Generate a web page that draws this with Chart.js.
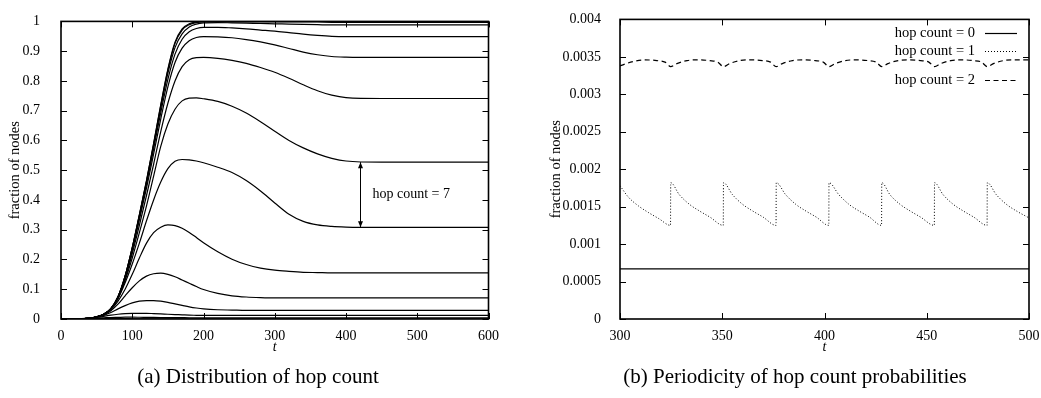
<!DOCTYPE html>
<html>
<head>
<meta charset="utf-8">
<script src="https://cdn.jsdelivr.net/npm/chart.js@4.4.1/dist/chart.umd.min.js"></script>
<style>
  html, body { margin: 0; padding: 0; background: #fff; }
  body { width: 1041px; height: 398px; position: relative; overflow: hidden; font-family: "Liberation Serif", "DejaVu Serif", serif; color: #000; }
  canvas { position: absolute; top: 0; }
  #chartA { left: 0; }
  #chartB { left: 520px; }
  .caption { position: absolute; top: 366px; font-size: 21px; line-height: 1; white-space: nowrap; transform: translateX(-50%); }
</style>
</head>
<body>
<canvas id="chartA" width="500" height="398"></canvas>
<canvas id="chartB" width="521" height="398"></canvas>
<div class="caption" style="left:258px">(a) Distribution of hop count</div>
<div class="caption" style="left:795px">(b) Periodicity of hop count probabilities</div>
<script>
// ---- (a) distribution of hop count: cumulative curves ----
const tA = [0, 20, 40, 50, 60, 70, 80, 90, 100, 110, 120, 130, 140, 150, 160, 170, 180, 190, 200, 220, 240, 260, 280, 300, 320, 340, 360, 380, 400, 450, 500, 600];

const curveA = [0, 0.0005, 0.003, 0.007, 0.016, 0.035, 0.075, 0.145, 0.24, 0.35, 0.465, 0.59, 0.72, 0.84, 0.93, 0.975, 0.992, 0.998, 1, 1, 1, 1, 1, 1, 1, 1, 1, 1, 1, 1, 1, 1];
const curveB = [0, 0.0005, 0.003, 0.007, 0.016, 0.035, 0.075, 0.145, 0.24, 0.35, 0.464, 0.588, 0.717, 0.836, 0.926, 0.971, 0.989, 0.996, 0.998, 0.998, 0.998, 0.998, 0.998, 0.998, 0.998, 0.998, 0.998, 0.997, 0.997, 0.997, 0.997, 0.997];
const curveC = [0, 0.0005, 0.003, 0.007, 0.016, 0.035, 0.075, 0.144, 0.238, 0.347, 0.46, 0.583, 0.708, 0.825, 0.912, 0.958, 0.981, 0.991, 0.995, 0.996, 0.995, 0.994, 0.993, 0.992, 0.991, 0.99, 0.989, 0.988, 0.988, 0.988, 0.988, 0.988];
const curveD = [0, 0.0005, 0.003, 0.007, 0.016, 0.035, 0.074, 0.142, 0.235, 0.342, 0.452, 0.572, 0.693, 0.805, 0.89, 0.94, 0.965, 0.976, 0.98, 0.98, 0.978, 0.975, 0.971, 0.967, 0.962, 0.957, 0.953, 0.95, 0.949, 0.949, 0.949, 0.949];
const curveE = [0, 0.0005, 0.003, 0.007, 0.016, 0.035, 0.073, 0.14, 0.23, 0.333, 0.44, 0.555, 0.672, 0.78, 0.862, 0.91, 0.935, 0.946, 0.949, 0.948, 0.945, 0.939, 0.931, 0.921, 0.909, 0.897, 0.888, 0.882, 0.88, 0.879, 0.879, 0.879];
const curveF = [0, 0.0005, 0.003, 0.007, 0.016, 0.034, 0.071, 0.135, 0.22, 0.315, 0.415, 0.52, 0.63, 0.725, 0.8, 0.848, 0.871, 0.878, 0.879, 0.876, 0.869, 0.859, 0.845, 0.829, 0.809, 0.787, 0.767, 0.752, 0.744, 0.741, 0.741, 0.741];
const curveG = [0, 0.0005, 0.003, 0.007, 0.016, 0.034, 0.07, 0.13, 0.205, 0.29, 0.38, 0.48, 0.58, 0.655, 0.705, 0.733, 0.742, 0.743, 0.74, 0.731, 0.715, 0.692, 0.663, 0.631, 0.6, 0.575, 0.555, 0.54, 0.531, 0.527, 0.527, 0.527];
const curveH = [0, 0.0005, 0.003, 0.007, 0.016, 0.033, 0.068, 0.122, 0.185, 0.255, 0.33, 0.4, 0.46, 0.505, 0.53, 0.536, 0.535, 0.531, 0.525, 0.51, 0.492, 0.465, 0.43, 0.39, 0.352, 0.328, 0.316, 0.311, 0.309, 0.308, 0.308, 0.308];
const curveI = [0, 0.0005, 0.003, 0.007, 0.015, 0.031, 0.06, 0.1, 0.15, 0.205, 0.255, 0.29, 0.308, 0.316, 0.314, 0.305, 0.291, 0.274, 0.256, 0.226, 0.201, 0.183, 0.171, 0.164, 0.16, 0.157, 0.156, 0.155, 0.155, 0.155, 0.155, 0.155];
const curveJ = [0, 0.0005, 0.003, 0.007, 0.014, 0.028, 0.05, 0.078, 0.105, 0.128, 0.144, 0.152, 0.154, 0.15, 0.142, 0.131, 0.12, 0.109, 0.099, 0.086, 0.078, 0.074, 0.072, 0.071, 0.071, 0.071, 0.071, 0.071, 0.071, 0.071, 0.071, 0.071];
const curveK = [0, 0.0005, 0.003, 0.006, 0.012, 0.022, 0.034, 0.045, 0.054, 0.06, 0.062, 0.062, 0.06, 0.056, 0.051, 0.046, 0.041, 0.037, 0.034, 0.031, 0.03, 0.029, 0.029, 0.029, 0.029, 0.029, 0.029, 0.029, 0.029, 0.029, 0.029, 0.029];
const curveL = [0, 0.0005, 0.003, 0.005, 0.009, 0.013, 0.016, 0.018, 0.019, 0.019, 0.019, 0.018, 0.017, 0.016, 0.015, 0.014, 0.013, 0.0125, 0.012, 0.012, 0.012, 0.012, 0.012, 0.012, 0.012, 0.012, 0.012, 0.012, 0.012, 0.012, 0.012, 0.012];
const curveM = [0, 0.0004, 0.002, 0.003, 0.004, 0.005, 0.0055, 0.006, 0.006, 0.0058, 0.0055, 0.0052, 0.005, 0.0048, 0.0046, 0.0044, 0.0042, 0.0041, 0.004, 0.004, 0.004, 0.004, 0.004, 0.004, 0.004, 0.004, 0.004, 0.004, 0.004, 0.004, 0.004, 0.004];
const curveN = [0, 0.0002, 0.0008, 0.001, 0.0011, 0.0011, 0.001, 0.001, 0.0009, 0.0009, 0.0008, 0.0008, 0.0008, 0.0007, 0.0007, 0.0007, 0.0007, 0.0007, 0.0007, 0.0007, 0.0007, 0.0007, 0.0007, 0.0007, 0.0007, 0.0007, 0.0007, 0.0007, 0.0007, 0.0007, 0.0007, 0.0007];
const curvesA = [curveA, curveB, curveC, curveD, curveE, curveF, curveG, curveH, curveI, curveJ, curveK, curveL, curveM, curveN];

const xTicksA = [0, 100, 200, 300, 400, 500, 600];
const xLabelsA = ['0', '100', '200', '300', '400', '500', '600'];
const yTicksA = [0, 0.1, 0.2, 0.3, 0.4, 0.5, 0.6, 0.7, 0.8, 0.9, 1];
const yLabelsA = ['0', '0.1', '0.2', '0.3', '0.4', '0.5', '0.6', '0.7', '0.8', '0.9', '1'];

// arrow marking the gap between two curves
const annotText = 'hop count = 7';
const annotT = 420;
const annotFrom = 0.527;
const annotTo = 0.308;

// ---- (b) periodicity of hop count probabilities ----
const hop0T = [300, 500];
const hop0V = [0.00067, 0.00067];

const hop1T = [300, 304, 309, 314, 319, 324.7,
               324.8, 329, 334, 339, 344, 350.5,
               350.6, 355, 360, 365, 370, 376.3,
               376.4, 381, 386, 391, 396, 402.1,
               402.2, 407, 412, 417, 422, 427.9,
               428, 432, 437, 442, 447, 453.7,
               453.8, 458, 463, 468, 473, 479.5,
               479.6, 484, 489, 494, 500];
const hop1V = [0.00178, 0.00163, 0.00151, 0.00142, 0.00134, 0.00125,
               0.00182, 0.00166, 0.00153, 0.00144, 0.00136, 0.00125,
               0.00182, 0.00166, 0.00153, 0.00144, 0.00136, 0.00125,
               0.00182, 0.00166, 0.00153, 0.00144, 0.00136, 0.00125,
               0.00182, 0.00166, 0.00153, 0.00144, 0.00136, 0.00125,
               0.00182, 0.00166, 0.00153, 0.00144, 0.00136, 0.00125,
               0.00182, 0.00166, 0.00153, 0.00144, 0.00136, 0.00125,
               0.00182, 0.00166, 0.00153, 0.00144, 0.00135];

const hop2T = [300, 302, 307, 312, 318, 322, 324.8,
               327.8, 332.8, 337.8, 343.8, 347.8, 350.6,
               353.6, 358.6, 363.6, 369.6, 373.6, 376.4,
               379.4, 384.4, 389.4, 395.4, 399.4, 402.2,
               405.2, 410.2, 415.2, 421.2, 425.2, 428,
               431, 436, 441, 447, 451, 453.8,
               456.8, 461.8, 466.8, 472.8, 476.8, 479.6,
               482.6, 487.6, 492.6, 500];
const hop2V = [0.00338, 0.0034, 0.00344, 0.00346, 0.00345, 0.00343, 0.00337,
               0.00341, 0.00345, 0.00346, 0.00345, 0.00343, 0.00337,
               0.00341, 0.00345, 0.00346, 0.00345, 0.00343, 0.00337,
               0.00341, 0.00345, 0.00346, 0.00345, 0.00343, 0.00337,
               0.00341, 0.00345, 0.00346, 0.00345, 0.00343, 0.00337,
               0.00341, 0.00345, 0.00346, 0.00345, 0.00343, 0.00337,
               0.00341, 0.00345, 0.00346, 0.00345, 0.00343, 0.00337,
               0.00341, 0.00345, 0.00346, 0.00346];

const xTicksB = [300, 350, 400, 450, 500];
const xLabelsB = ['300', '350', '400', '450', '500'];
const yTicksB = [0, 0.0005, 0.001, 0.0015, 0.002, 0.0025, 0.003, 0.0035, 0.004];
const yLabelsB = ['0', '0.0005', '0.001', '0.0015', '0.002', '0.0025', '0.003', '0.0035', '0.004'];

const legendLabels = ['hop count = 0', 'hop count = 1', 'hop count = 2'];

const FONT = '"Liberation Serif", "Times New Roman", serif';

// pair up x and y arrays for Chart.js
function points(xs, ys) {
    return xs.map((x, i) => ({ x: x, y: ys[i] }));
}

// gnuplot-like frame with inward ticks on all four sides
const framePlugin = {
    id: 'frame',
    afterDraw(chart) {
        const { ctx, chartArea: a, scales } = chart;
        ctx.save();
        ctx.strokeStyle = '#000';
        ctx.lineWidth = 1;
        ctx.beginPath();
        scales.x.ticks.forEach(t => {
            const px = Math.round(scales.x.getPixelForValue(t.value)) + 0.5;
            ctx.moveTo(px, a.bottom); ctx.lineTo(px, a.bottom - 6);
            ctx.moveTo(px, a.top); ctx.lineTo(px, a.top + 6);
        });
        scales.y.ticks.forEach(t => {
            const py = Math.round(scales.y.getPixelForValue(t.value)) + 0.5;
            ctx.moveTo(a.left, py); ctx.lineTo(a.left + 6, py);
            ctx.moveTo(a.right, py); ctx.lineTo(a.right - 6, py);
        });
        ctx.stroke();
        ctx.lineWidth = 1.6;
        ctx.strokeRect(a.left, a.top, a.right - a.left, a.bottom - a.top);
        ctx.restore();
    }
};

// double arrow + label in chart (a)
const annotPlugin = {
    id: 'annot',
    afterDatasetsDraw(chart) {
        const { ctx, scales } = chart;
        const x = Math.round(scales.x.getPixelForValue(annotT)) + 0.5;
        const y1 = scales.y.getPixelForValue(annotFrom);
        const y2 = scales.y.getPixelForValue(annotTo);
        ctx.save();
        ctx.strokeStyle = '#000';
        ctx.fillStyle = '#000';
        ctx.lineWidth = 1;
        ctx.beginPath();
        ctx.moveTo(x, y1); ctx.lineTo(x, y2);
        ctx.stroke();
        ctx.beginPath();
        ctx.moveTo(x, y1); ctx.lineTo(x - 2.5, y1 + 6); ctx.lineTo(x + 2.5, y1 + 6); ctx.closePath();
        ctx.moveTo(x, y2); ctx.lineTo(x - 2.5, y2 - 6); ctx.lineTo(x + 2.5, y2 - 6); ctx.closePath();
        ctx.fill();
        ctx.font = '14px ' + FONT;
        ctx.textBaseline = 'middle';
        ctx.textAlign = 'left';
        ctx.fillText(annotText, x + 12, (y1 + y2) / 2);
        ctx.restore();
    }
};

// key in the top right corner of chart (b)
const keyPlugin = {
    id: 'key',
    afterDatasetsDraw(chart) {
        const { ctx, chartArea: a } = chart;
        const rows = [14, 32, 61];
        ctx.save();
        ctx.font = '14.5px ' + FONT;
        ctx.textBaseline = 'middle';
        ctx.textAlign = 'right';
        ctx.fillStyle = '#000';
        chart.data.datasets.forEach((ds, i) => {
            const y = a.top + rows[i];
            ctx.fillText(legendLabels[i], a.right - 54, y);
            ctx.strokeStyle = '#000';
            ctx.lineWidth = ds.borderWidth;
            ctx.setLineDash(ds.borderDash || []);
            ctx.beginPath();
            ctx.moveTo(a.right - 44, Math.round(y) + 0.5);
            ctx.lineTo(a.right - 12, Math.round(y) + 0.5);
            ctx.stroke();
        });
        ctx.restore();
    }
};

function axis(min, max, tickVals, tickLabels, extra) {
    return Object.assign({
        type: 'linear',
        min: min,
        max: max,
        grid: { display: false },
        border: { display: false },
        afterBuildTicks: s => { s.ticks = tickVals.map(v => ({ value: v })); },
        ticks: {
            color: '#000',
            font: { family: FONT, size: 14 },
            padding: 1,
            autoSkip: false,
            maxRotation: 0,
            callback: (v, i) => tickLabels[i]
        }
    }, extra);
}

function xAxis(min, max, tickVals, tickLabels) {
    return axis(min, max, tickVals, tickLabels, {
        afterFit: sc => { sc.height = 38; },
        title: { display: true, text: 't', color: '#000', font: { family: FONT, size: 14, style: 'italic' }, padding: { top: 0, bottom: 1 } }
    });
}

function yAxis(tickVals, tickLabels, width, titlePad, labelPad) {
    const s = axis(tickVals[0], tickVals[tickVals.length - 1], tickVals, tickLabels, {
        afterFit: sc => { sc.width = width; },
        title: { display: true, text: 'fraction of nodes', color: '#000', font: { family: FONT, size: 14.5 }, padding: { top: titlePad, bottom: 0 } }
    });
    s.ticks.padding = labelPad;
    return s;
}

const baseOptions = {
    responsive: false,
    animation: false,
    events: [],
    elements: { point: { radius: 0 } },
    plugins: { legend: { display: false }, tooltip: { enabled: false } }
};

new Chart(document.getElementById('chartA'), {
    type: 'line',
    data: {
        datasets: curvesA.map(c => ({
            data: points(tA, c),
            borderColor: '#000',
            borderWidth: 1.2,
            cubicInterpolationMode: 'monotone',
            fill: false
        }))
    },
    options: Object.assign({}, baseOptions, {
        layout: { padding: { left: 0, right: 11, top: 11, bottom: 41 } },
        scales: {
            x: xAxis(0, 600, xTicksA, xLabelsA),
            y: yAxis(yTicksA, yLabelsA, 61, 6.3, 13)
        }
    }),
    plugins: [annotPlugin, framePlugin]
});

new Chart(document.getElementById('chartB'), {
    type: 'line',
    data: {
        datasets: [
            { data: points(hop0T, hop0V), borderColor: '#000', borderWidth: 1.2, borderDash: [], fill: false },
            { data: points(hop1T, hop1V), borderColor: '#000', borderWidth: 1, borderDash: [1, 2], cubicInterpolationMode: 'monotone', fill: false },
            { data: points(hop2T, hop2V), borderColor: '#000', borderWidth: 1.2, borderDash: [5, 3.5], cubicInterpolationMode: 'monotone', fill: false }
        ]
    },
    options: Object.assign({}, baseOptions, {
        layout: { padding: { left: 0, right: 12, top: 11, bottom: 41 } },
        scales: {
            x: xAxis(300, 500, xTicksB, xLabelsB),
            y: yAxis(yTicksB, yLabelsB, 100, 27.3, 11)
        }
    }),
    plugins: [keyPlugin, framePlugin]
});
</script>
</body>
</html>
